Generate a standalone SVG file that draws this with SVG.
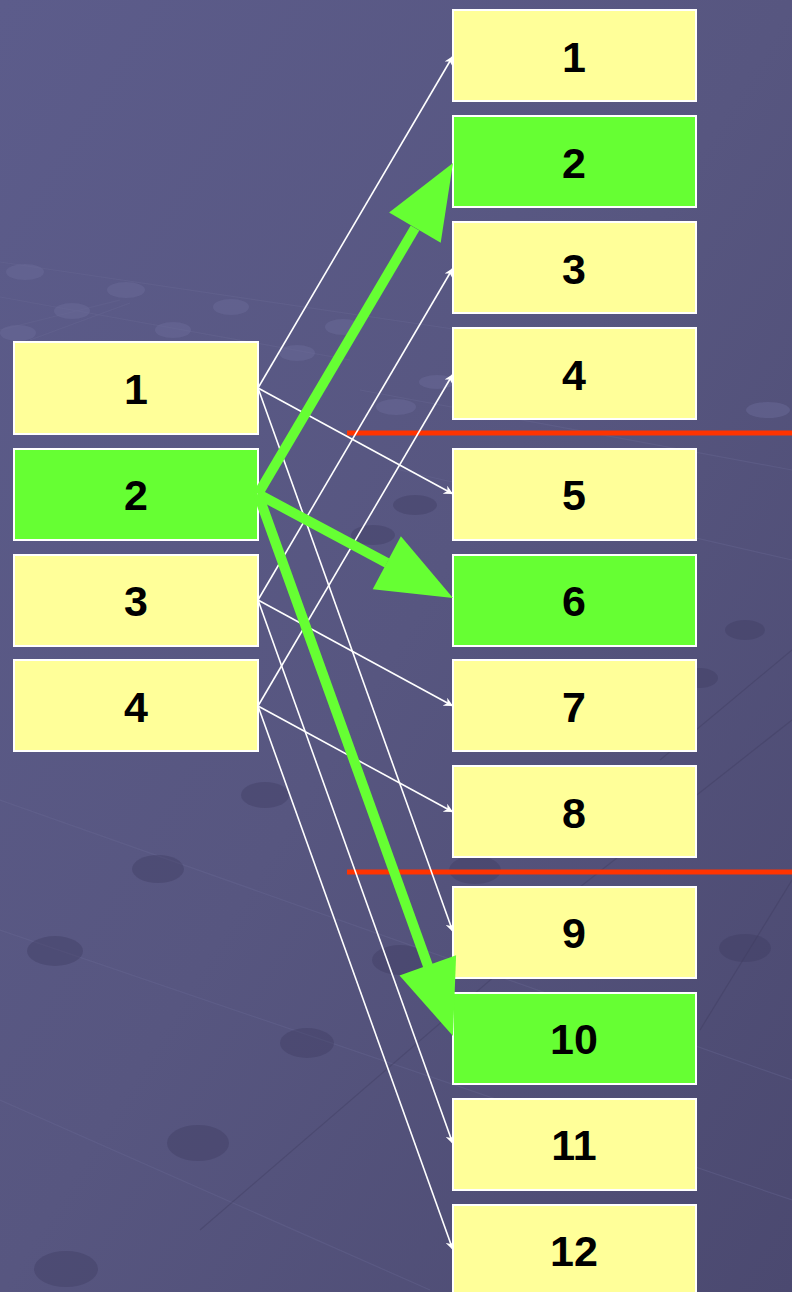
<svg xmlns="http://www.w3.org/2000/svg" width="792" height="1292" viewBox="0 0 792 1292">
<defs>
<linearGradient id="bg" x1="0" y1="0" x2="1" y2="1">
<stop offset="0" stop-color="#5c5c8b"/>
<stop offset="0.5" stop-color="#575680"/>
<stop offset="1" stop-color="#4b4970"/>
</linearGradient>
<marker id="wa" viewBox="0 0 10 10" refX="10" refY="5" markerWidth="10" markerHeight="9" markerUnits="userSpaceOnUse" orient="auto">
<path d="M0,0 L10,5 L0,10 L3,5 z" fill="#ffffff"/>
</marker>
<style>
.box{stroke:#ffffff;stroke-width:2}
.y{fill:#ffff99}
.g{fill:#66ff33}
.t{font-family:"Liberation Sans",Arial,sans-serif;font-weight:bold;font-size:43px;fill:#000;text-anchor:middle;dominant-baseline:central}
.w{stroke:#ffffff;stroke-width:1.6;fill:none;marker-end:url(#wa)}
.gl{stroke:#66ff33;stroke-width:10;fill:none}
.gh{fill:#66ff33}
.red{stroke:#ff3300;stroke-width:5}
.dot{fill:#6a6a98;opacity:0.5}
.dk{fill:#3f3d62;opacity:0.4}
.gr{stroke:#6a6a96;stroke-width:1.2;opacity:0.35;fill:none}
.gd{stroke:#3c3a5c;stroke-width:1.2;opacity:0.35;fill:none}
</style>
</defs>
<rect width="792" height="1292" fill="url(#bg)"/>
<g id="background-texture">
<path class="gr" d="M0,262 L460,330 M0,297 L350,360 M0,330 L120,300 M30,340 L130,303 M360,390 L792,470 M400,470 L792,560 M0,800 L792,1080 M0,930 L792,1200 M0,1100 L430,1290"/>
<path class="gd" d="M660,760 L792,650 M500,950 L792,720 M200,1230 L560,920 M700,1030 L792,880"/>
<ellipse class="dot" cx="25" cy="272" rx="19" ry="8"/>
<ellipse class="dot" cx="126" cy="290" rx="19" ry="8"/>
<ellipse class="dot" cx="72" cy="311" rx="18" ry="8"/>
<ellipse class="dot" cx="231" cy="307" rx="18" ry="8"/>
<ellipse class="dot" cx="173" cy="330" rx="18" ry="8"/>
<ellipse class="dot" cx="18" cy="333" rx="18" ry="8"/>
<ellipse class="dot" cx="343" cy="327" rx="18" ry="8"/>
<ellipse class="dot" cx="297" cy="353" rx="18" ry="8"/>
<ellipse class="dot" cx="396" cy="407" rx="20" ry="8"/>
<ellipse class="dot" cx="437" cy="382" rx="18" ry="7"/>
<ellipse class="dot" cx="768" cy="410" rx="22" ry="8"/>
<ellipse class="dk" cx="415" cy="505" rx="22" ry="10"/>
<ellipse class="dk" cx="373" cy="535" rx="22" ry="10"/>
<ellipse class="dk" cx="745" cy="630" rx="20" ry="10"/>
<ellipse class="dk" cx="700" cy="678" rx="18" ry="10"/>
<ellipse class="dk" cx="265" cy="795" rx="24" ry="13"/>
<ellipse class="dk" cx="158" cy="869" rx="26" ry="14"/>
<ellipse class="dk" cx="475" cy="870" rx="26" ry="14"/>
<ellipse class="dk" cx="55" cy="951" rx="28" ry="15"/>
<ellipse class="dk" cx="400" cy="960" rx="28" ry="15"/>
<ellipse class="dk" cx="307" cy="1043" rx="27" ry="15"/>
<ellipse class="dk" cx="745" cy="948" rx="26" ry="14"/>
<ellipse class="dk" cx="198" cy="1143" rx="31" ry="18"/>
<ellipse class="dk" cx="66" cy="1269" rx="32" ry="18"/>
</g>
<g id="left-1"><rect class="box y" x="14" y="342" width="244" height="92"/><text class="t" x="136" y="389">1</text></g>
<g id="left-2"><rect class="box g" x="14" y="449" width="244" height="91"/><text class="t" x="136" y="495">2</text></g>
<g id="left-3"><rect class="box y" x="14" y="555" width="244" height="91"/><text class="t" x="136" y="601">3</text></g>
<g id="left-4"><rect class="box y" x="14" y="660" width="244" height="91"/><text class="t" x="136" y="707">4</text></g>
<g id="right-1"><rect class="box y" x="453" y="10" width="243" height="91"/><text class="t" x="574" y="57">1</text></g>
<g id="right-2"><rect class="box g" x="453" y="116" width="243" height="91"/><text class="t" x="574" y="163">2</text></g>
<g id="right-3"><rect class="box y" x="453" y="222" width="243" height="91"/><text class="t" x="574" y="269">3</text></g>
<g id="right-4"><rect class="box y" x="453" y="328" width="243" height="91"/><text class="t" x="574" y="375">4</text></g>
<g id="right-5"><rect class="box y" x="453" y="449" width="243" height="91"/><text class="t" x="574" y="495">5</text></g>
<g id="right-6"><rect class="box g" x="453" y="555" width="243" height="91"/><text class="t" x="574" y="601">6</text></g>
<g id="right-7"><rect class="box y" x="453" y="660" width="243" height="91"/><text class="t" x="574" y="707">7</text></g>
<g id="right-8"><rect class="box y" x="453" y="766" width="243" height="91"/><text class="t" x="574" y="813">8</text></g>
<g id="right-9"><rect class="box y" x="453" y="887" width="243" height="91"/><text class="t" x="574" y="933">9</text></g>
<g id="right-10"><rect class="box g" x="453" y="993" width="243" height="91"/><text class="t" x="574" y="1039">10</text></g>
<g id="right-11"><rect class="box y" x="453" y="1099" width="243" height="91"/><text class="t" x="574" y="1145">11</text></g>
<g id="right-12"><rect class="box y" x="453" y="1205" width="243" height="91"/><text class="t" x="574" y="1251">12</text></g>
<g id="separators">
<line class="red" x1="347" y1="433" x2="792" y2="433"/>
<line class="red" x1="347" y1="872" x2="792" y2="872"/>
</g>
<g id="connectors">
<line class="w" x1="258" y1="388" x2="453" y2="56"/>
<line class="w" x1="258" y1="388" x2="453" y2="494"/>
<line class="w" x1="258" y1="388" x2="453" y2="932"/>
<line class="w" x1="258" y1="600" x2="453" y2="268"/>
<line class="w" x1="258" y1="600" x2="453" y2="706"/>
<line class="w" x1="258" y1="600" x2="453" y2="1144"/>
<line class="w" x1="258" y1="706" x2="453" y2="374"/>
<line class="w" x1="258" y1="706" x2="453" y2="812"/>
<line class="w" x1="258" y1="706" x2="453" y2="1250"/>
<line class="gl" x1="258" y1="494" x2="415" y2="228"/>
<polygon class="gh" points="453,163 440.7,242.8 389.1,212.4"/>
<line class="gl" x1="258" y1="494" x2="387" y2="563"/>
<polygon class="gh" points="453,598 372.7,589.2 400.9,536.2"/>
<line class="gl" x1="258" y1="494" x2="428" y2="966"/>
<polygon class="gh" points="453,1036 399.5,975.5 456.1,955.3"/>
</g>
</svg>
